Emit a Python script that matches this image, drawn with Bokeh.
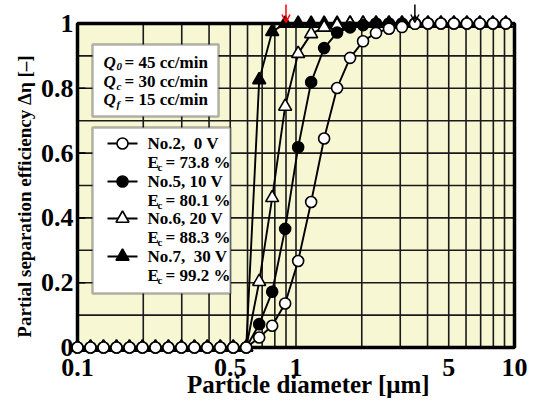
import math
from bokeh.plotting import figure
from bokeh.models import Range1d, Label, BoxAnnotation, Arrow, OpenHead
from bokeh.embed import file_html
from bokeh.resources import INLINE

# ---------------- data ----------------
diameter = [0.1, 0.1147, 0.1315, 0.1508, 0.1729, 0.1982, 0.2273, 0.2606,
            0.2988, 0.3426, 0.3926, 0.4502, 0.5162, 0.5918, 0.6786, 0.778,
            0.892, 1.023, 1.173, 1.345, 1.542, 1.768, 2.027, 2.324, 2.664,
            3.055, 3.503, 4.016, 4.605, 5.279, 6.053, 6.941, 7.958, 9.124]

eff_no2 = [0, 0, 0, 0, 0, 0, 0, 0, 0, 0, 0, 0, 0, 0,
           0.031, 0.067, 0.136, 0.267, 0.449, 0.645, 0.801, 0.894, 0.945,
           0.971, 0.984, 0.989, 0.999, 1, 1, 1, 1, 1, 1, 1]
eff_no5 = [0, 0, 0, 0, 0, 0, 0, 0, 0, 0, 0, 0, 0, 0,
           0.072, 0.172, 0.366, 0.618, 0.819, 0.924, 0.972, 0.988, 0.995,
           1, 1, 1, 1, 1, 1, 1, 1, 1, 1, 1]
eff_no6 = [0, 0, 0, 0, 0, 0, 0, 0, 0, 0, 0, 0, 0, 0,
           0.203, 0.462, 0.744, 0.907, 0.968, 0.988, 0.995,
           1, 1, 1, 1, 1, 1, 1, 1, 1, 1, 1, 1, 1]
eff_no7 = [0, 0, 0, 0, 0, 0, 0, 0, 0, 0, 0, 0, 0, 0,
           0.826, 0.975,
           1, 1, 1, 1, 1, 1, 1, 1, 1, 1, 1, 1, 1, 1, 1, 1, 1, 1]

NB = "\u00a0"
series_names = ["No.2," + NB + NB + "0 V", "No.5, 10 V", "No.6, 20 V",
                "No.7," + NB + NB + "30 V"]
ec_values = ["73.8", "80.1", "88.3", "99.2"]
flow_subs = ["0", "c", "f"]
flow_values = ["45", "30", "15"]
arrow_d = [0.9, 3.5]
arrow_colors = ["red", "black"]

x_ticks = [0.1, 0.5, 1, 5, 10]
x_tick_labels = ["0.1", "0.5", "1", "5", "10"]
y_ticks = [0, 0.2, 0.4, 0.6, 0.8, 1]
y_tick_labels = ["0", "0.2", "0.4", "0.6", "0.8", "1"]
x_grid = [0.2, 0.3, 0.4, 0.5, 0.6, 0.7, 0.8, 0.9, 1, 2, 3, 4, 5, 6, 7, 8, 9]
y_grid = [0.1, 0.2, 0.3, 0.4, 0.5, 0.6, 0.7, 0.8, 0.9]
X_MIN, X_MAX, Y_MIN, Y_MAX = 0.1, 10, 0, 1
x_title = "Particle diameter [μm]"
y_title = "Partial separation efficiency Δη [–]"

# ---------------- geometry helpers (page px -> data) ----------------
W, H = 534, 401
PX0, PX_DEC = 77, 218.5                    # x=0.1 at PX0, px per decade
PY0, PY_UNIT = 347, 324                    # y=0 at PY0, px per unit


def X(px):
    return X_MIN * 10 ** ((px - PX0) / PX_DEC)


def Y(py):
    return (PY0 - py) / PY_UNIT


FONT = "Liberation Serif"
BG = "#f7f7d4"

p = figure(width=W, height=H, x_axis_type="log",
           x_range=Range1d(X(0), X(W)), y_range=Range1d(Y(H), Y(0)),
           output_backend="svg", toolbar_location=None,
           min_border=0, min_border_left=0, min_border_right=0,
           min_border_top=0, min_border_bottom=0)
p.axis.visible = False
p.outline_line_color = None
p.background_fill_color = "white"
p.border_fill_color = "white"
p.xgrid.visible = False
p.ygrid.visible = False


def text(px, py, s, size, style="bold", align="left", baseline="middle",
         angle=0.0, color="black"):
    p.add_layout(Label(x=X(px), y=Y(py), text=s, text_font=FONT,
                       text_font_style=style, text_font_size=size,
                       text_align=align, text_baseline=baseline,
                       angle=angle, text_color=color))


# plot area background, grid and border
p.quad(left=X_MIN, right=X_MAX, bottom=Y_MIN, top=Y_MAX, fill_color=BG,
       line_color=None, level="image")
p.segment(x0=x_grid, x1=x_grid, y0=[Y_MIN] * len(x_grid),
          y1=[Y_MAX] * len(x_grid), line_color="#1a1a1a", line_width=1.6,
          level="image")
p.segment(x0=[X_MIN] * len(y_grid), x1=[X_MAX] * len(y_grid), y0=y_grid,
          y1=y_grid, line_color="#1a1a1a", line_width=1.6, level="image")
inner = [t for t in y_ticks if Y_MIN < t < Y_MAX]
p.segment(x0=[X_MIN] * len(inner), x1=[X(PX0 + 8)] * len(inner), y0=inner,
          y1=inner, line_color="black", line_width=1.6, level="image")
p.quad(left=X_MIN, right=X_MAX, bottom=Y_MIN, top=Y_MAX, fill_color=None,
       line_color="black", line_width=3.5, level="image")

# tick labels
for t, lab in zip(x_ticks, x_tick_labels):
    p.add_layout(Label(x=t, y=Y(367), text=lab, text_font=FONT,
                       text_font_style="bold", text_font_size="26px",
                       text_align="center", text_baseline="middle",
                       text_color="black"))
for t, lab in zip(y_ticks, y_tick_labels):
    p.add_layout(Label(x=X(73), y=t, text=lab, text_font=FONT,
                       text_font_style="bold", text_font_size="26px",
                       text_align="right", text_baseline="middle",
                       text_color="black"))

# boxes
q_box = BoxAnnotation(left=X(92), right=X(218), top=Y(44), bottom=Y(116),
                      fill_color="white", fill_alpha=1, line_color="black",
                      line_width=2.5, level="underlay")
leg_box = BoxAnnotation(left=X(92), right=X(230), top=Y(127), bottom=Y(293),
                        fill_color="white", fill_alpha=1, line_color="black",
                        line_width=2.5, level="underlay")
p.add_layout(q_box)
p.add_layout(leg_box)

# series (drawn so the open circles end on top)
styles = [
    (eff_no7, "triangle", "black", 13),
    (eff_no6, "triangle", "white", 13),
    (eff_no5, "circle", "black", 11),
    (eff_no2, "circle", "white", 11),
]
for eff, marker, fill, size in styles:
    p.line(diameter, eff, line_color="black", line_width=1.9)
    p.scatter(diameter, eff, marker=marker, size=size, fill_color=fill,
              line_color="black", line_width=1.6)

# legend entries (order: No.2, No.5, No.6, No.7)
leg_styles = [styles[3], styles[2], styles[1], styles[0]]
row_y = [143, 181, 218, 256]
for (eff, marker, fill, size), name, ec, ry in zip(leg_styles, series_names,
                                                   ec_values, row_y):
    p.line([X(107), X(137)], [Y(ry), Y(ry)], line_color="black",
           line_width=1.9)
    p.scatter([X(122)], [Y(ry)], marker=marker, size=size, fill_color=fill,
              line_color="black", line_width=1.6)
    text(147, ry, name, "17px")
    ey = ry + 19
    text(147, ey, "E", "17px")
    text(157, ey + 4, "c", "11px")
    text(165, ey, "= " + ec + " %", "17px")

# flow-rate box
for sub, val, ry in zip(flow_subs, flow_values, [62, 81, 99]):
    text(103, ry, "Q", "17px", style="bold italic")
    text(116, ry + 4, sub, "11px", style="bold italic")
    text(124, ry, "= " + val + " cc/min", "17px")

# arrows above the frame
for d, c in zip(arrow_d, arrow_colors):
    p.add_layout(Arrow(end=OpenHead(size=8, line_color=c, line_width=1.5),
                       x_start=d, y_start=Y(4), x_end=d, y_end=Y(22),
                       line_color=c, line_width=1.5))

# axis titles
text(308, 384, x_title, "25px", align="center")
text(24, 196, y_title, "19px", align="center", angle=math.pi / 2)

open("out.html", "w").write(file_html(p, INLINE))
